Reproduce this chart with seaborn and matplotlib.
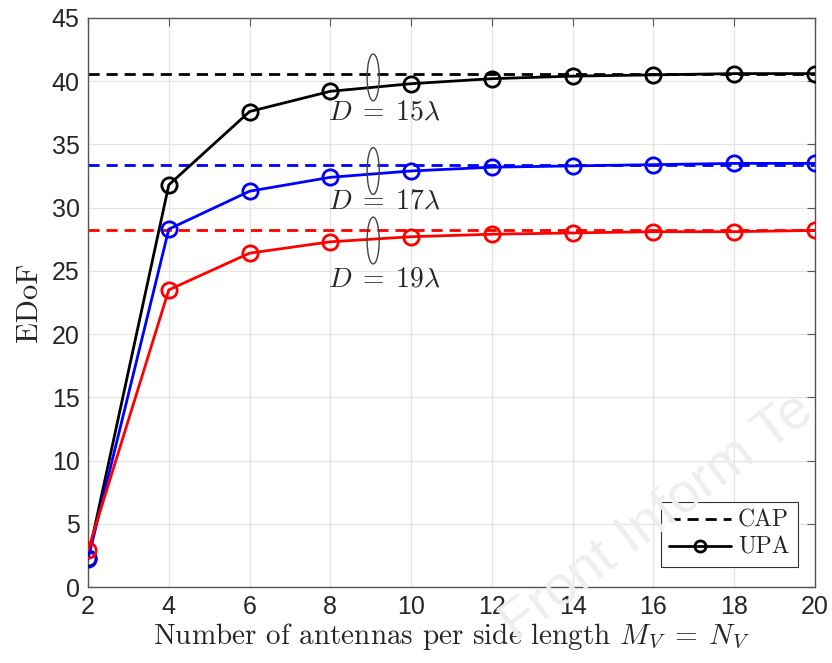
import numpy as np
import pandas as pd
import matplotlib
matplotlib.use('Agg')
import matplotlib.pyplot as plt
from matplotlib.patches import Ellipse
from matplotlib.lines import Line2D
import seaborn as sns

# antennas per side length
antennas = [2, 4, 6, 8, 10, 12, 14, 16, 18, 20]

# EDoF of the UPA for each distance
upa_15 = [2.3, 31.8, 37.6, 39.2, 39.8, 40.2, 40.4, 40.5, 40.6, 40.6]
upa_17 = [2.2, 28.3, 31.3, 32.4, 32.9, 33.2, 33.3, 33.4, 33.5, 33.5]
upa_19 = [2.9, 23.5, 26.4, 27.3, 27.7, 27.9, 28.0, 28.1, 28.1, 28.2]

# CAP limits
cap_15 = 40.6
cap_17 = 33.4
cap_19 = 28.2

distancias = ['15', '17', '19']
cores = {'15': 'black', '17': 'blue', '19': 'red'}

df = pd.DataFrame({
    'M': antennas * 3,
    'EDoF': upa_15 + upa_17 + upa_19,
    'D': ['15'] * 10 + ['17'] * 10 + ['19'] * 10,
})

sns.set_style('white')
plt.rcParams['mathtext.fontset'] = 'cm'

fig = plt.figure(figsize=(8.32, 6.63), dpi=100)
ax = fig.add_axes([0.1058, 0.1146, 0.8738, 0.8583])

# Linhas tracejadas do CAP
for d, cap in zip(distancias, [cap_15, cap_17, cap_19]):
    ax.axhline(cap, color=cores[d], linestyle=(0, (4, 2.5)), linewidth=2, zorder=2)

# Curvas da UPA (uma por distância, para controlar a cor do marcador)
for d in distancias:
    sns.lineplot(data=df[df['D'] == d], x='M', y='EDoF', color=cores[d], marker='o',
                 markersize=11, markerfacecolor='none', markeredgecolor=cores[d],
                 markeredgewidth=2, linewidth=2, ax=ax, zorder=3)

ax.set_xlim(2, 20)
ax.set_ylim(0, 45)
ax.set_xticks(range(2, 21, 2))
ax.set_yticks(range(0, 46, 5))
ax.grid(True, color='#e3e3e3', linewidth=0.9)
ax.set_axisbelow(True)
for s in ax.spines.values():
    s.set_color('#555555')
    s.set_linewidth(1.0)
ax.tick_params(direction='in', length=6, width=0.8, color='#555555',
               top=True, right=True, labelsize=18, labelcolor='#262626', pad=6)
for lab in ax.get_xticklabels() + ax.get_yticklabels():
    lab.set_fontfamily('Liberation Sans')

ax.set_xlabel(r'Number of antennas per side length $M_V\;=\;N_V$',
              fontsize=21, fontfamily='cmr10', color='#262626', labelpad=1)
ax.set_ylabel('EDoF', fontsize=22, fontfamily='cmr10', color='#262626', labelpad=6)

# Elipses e rótulos de distância
for yc, yt, d in [(40.3, 37.6, '15'), (32.9, 30.6, '17'), (27.4, 24.4, '19')]:
    ax.add_patch(Ellipse((9.06, yc), 0.3, 3.7, fill=False, edgecolor='#444444',
                         linewidth=1, zorder=4))
    ax.text(9.35, yt, r'$D\;=\;%s\lambda$' % d, fontsize=20, ha='center', va='center',
            color='#262626', zorder=5)

# Legenda
handles = [Line2D([], [], color='black', linestyle=(0, (4, 2.5)), linewidth=2),
           Line2D([], [], color='black', marker='o', markerfacecolor='none',
                  markeredgewidth=2, markersize=8, linewidth=2)]
leg = ax.legend(handles, ['CAP', 'UPA'], loc='lower right', bbox_to_anchor=(0.976, 0.035),
                fancybox=False, framealpha=1, edgecolor='#333333', handlelength=2.6,
                handletextpad=0.3, borderpad=0.35, borderaxespad=0, labelspacing=0.2,
                prop={'family': 'cmr10', 'size': 17})
leg.get_frame().set_linewidth(0.8)

# Marca d'água
fig.text(0.79, 0.22, 'Front Inform Te', fontsize=40, color='#eeeeee', rotation=37,
         ha='center', va='center', fontfamily='Liberation Sans', zorder=0)

fig.savefig('out.png', dpi=100)
